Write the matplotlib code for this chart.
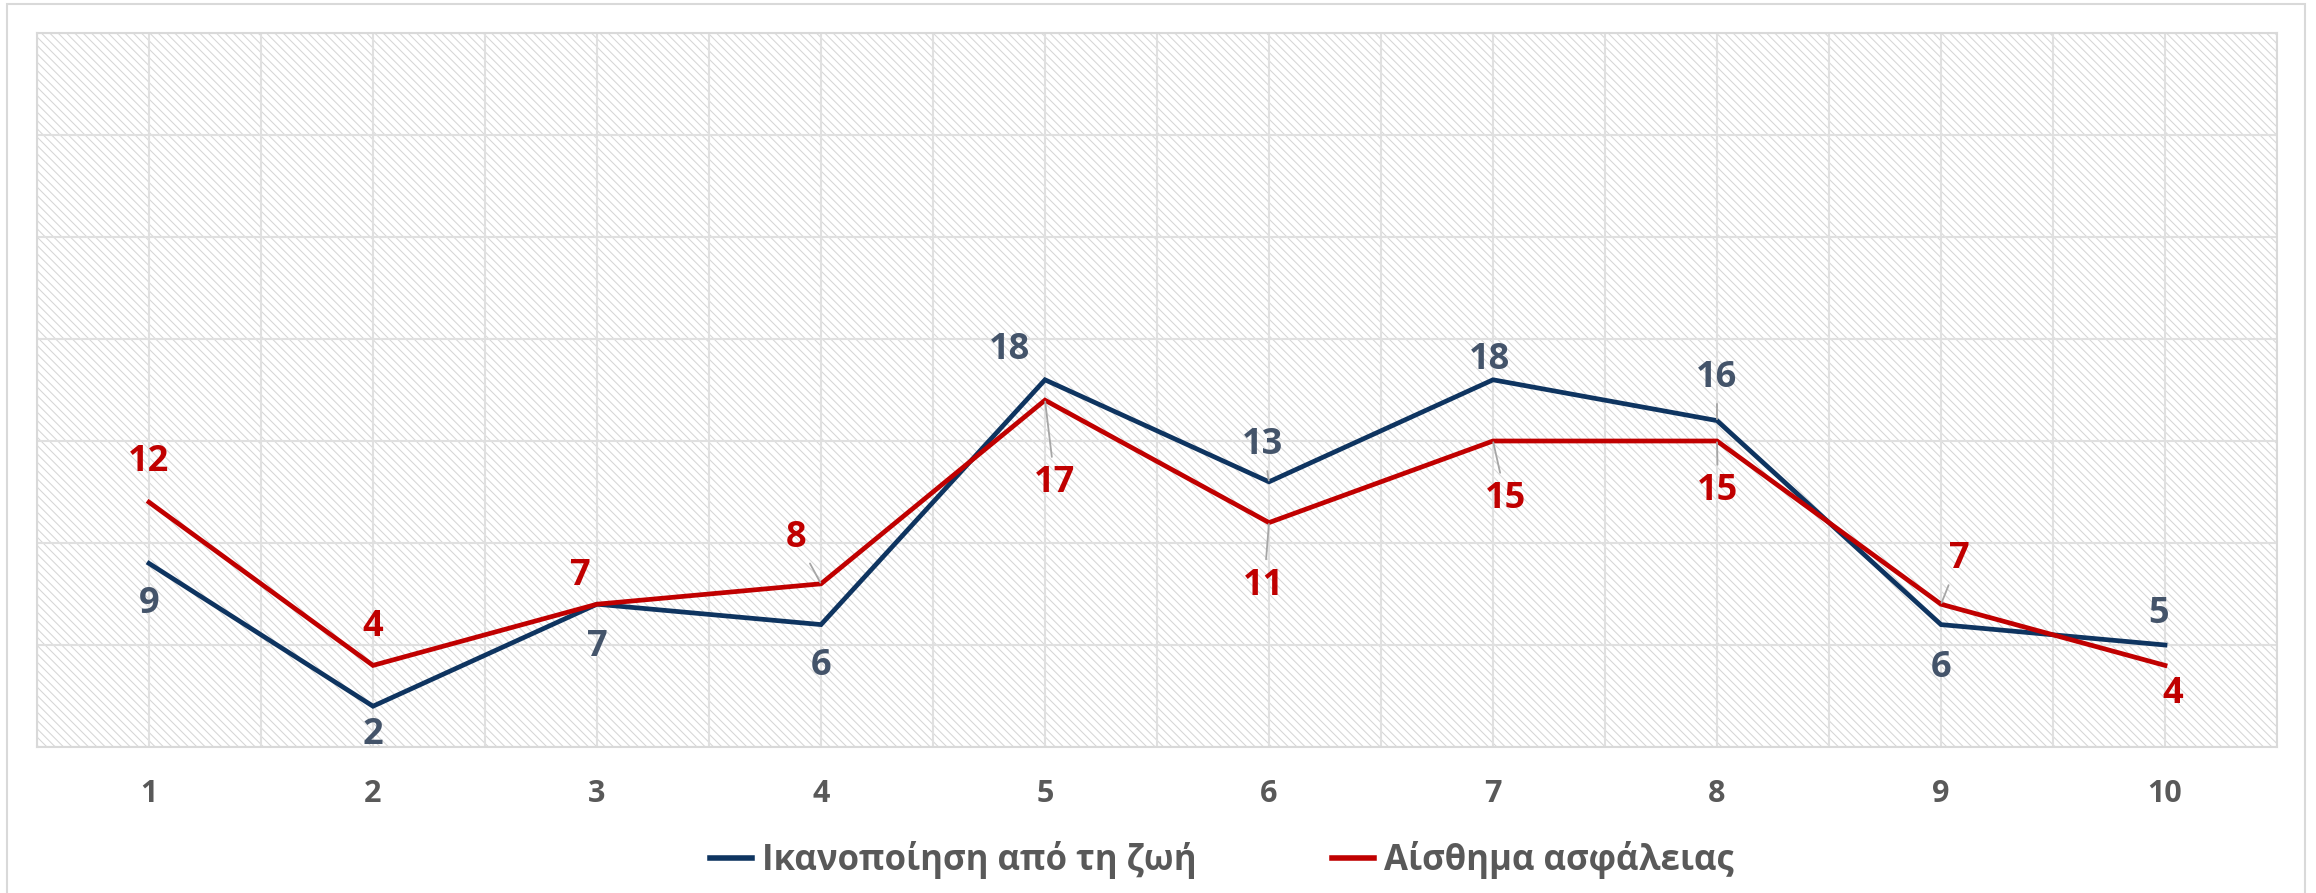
import matplotlib
matplotlib.use("Agg")
import matplotlib.pyplot as plt
from matplotlib.patches import Rectangle

# ---- data ----
categories = [1, 2, 3, 4, 5, 6, 7, 8, 9, 10]
life_satisfaction = [9, 2, 7, 6, 18, 13, 18, 16, 6, 5]
safety_feeling = [12, 4, 7, 8, 17, 11, 15, 15, 7, 4]
series_names = ["Ικανοποίηση από τη ζωή", "Αίσθημα ασφάλειας"]

# ---- style ----
BLUE = "#0E3460"
RED = "#C00000"
BLUE_TXT = "#44546A"
GRAY_TXT = "#595959"
GRID = "#E0E0E0"
LEADER = "#A6A6A6"

plt.rcParams["font.family"] = ["Open Sans", "DejaVu Sans"]
plt.rcParams["hatch.color"] = "#D6D6D6"
plt.rcParams["hatch.linewidth"] = 0.75

W, H, DPI = 2316, 893, 100
fig = plt.figure(figsize=(W / DPI, H / DPI), dpi=DPI)
fig.patch.set_facecolor("white")

# outer chart border
fig.add_artist(Rectangle((7 / W, -0.01), (2305 - 7) / W, 1 - 4 / H + 0.01,
                         transform=fig.transFigure, fill=False,
                         edgecolor="#D9D9D9", lw=1.5))

ax = fig.add_axes([37 / W, 1 - 747 / H, (2277 - 37) / W, (747 - 33) / H])
ax.set_facecolor("white")
ax.add_patch(Rectangle((0, 0), 1, 1, transform=ax.transAxes, facecolor="white",
                       hatch="\\\\\\\\", lw=0, zorder=0))

ax.set_xlim(0.5, 10.5)
ax.set_ylim(0, 35)
ax.set_xticks(categories)
ax.set_xticks([c - 0.5 for c in categories] + [10.5], minor=True)
ax.set_yticks(range(0, 36, 5))
ax.set_yticklabels([])
ax.set_axisbelow(True)
ax.grid(True, which="both", axis="x", color=GRID, lw=1.5)
ax.grid(True, which="major", axis="y", color=GRID, lw=1.5)
ax.tick_params(axis="both", which="both", length=0)
ax.tick_params(axis="x", pad=23, labelsize=22, labelcolor=GRAY_TXT)
for lab in ax.get_xticklabels():
    lab.set_fontweight("bold")
for sp in ax.spines.values():
    sp.set_color("#D9D9D9")
    sp.set_linewidth(1.5)

l1, = ax.plot(categories, life_satisfaction, color=BLUE, lw=3.4,
              solid_joinstyle="miter", zorder=3, label=series_names[0])
l2, = ax.plot(categories, safety_feeling, color=RED, lw=3.4,
              solid_joinstyle="miter", zorder=3, label=series_names[1])

# label offsets in pixels (dx, dy up) and whether a leader line is drawn
blue_off = [(0, -41), (0, -29), (0, -43), (0, -41), (-35, 30),
            (-6, 37), (-3, 20), (0, 43), (0, -43), (-6, 31)]
blue_lead = [False, False, False, False, False, True, False, True, False, False]
red_off = [(0, 40), (0, 38), (-17, 28), (-25, 46), (10, -83),
           (-5, -63), (13, -58), (1, -50), (18, 45), (8, -29)]
red_lead = [False, False, False, True, True, True, True, True, True, False]


def put_labels(vals, offs, leads, color):
    for x, v, (dx, dy), ld in zip(categories, vals, offs, leads):
        kw = {}
        if ld:
            kw["arrowprops"] = dict(arrowstyle="-", color=LEADER, lw=1.3,
                                    shrinkA=4, shrinkB=1)
        ax.annotate(str(v), xy=(x, v), xytext=(dx, dy),
                    textcoords="offset pixels", ha="center", va="center",
                    fontsize=26, fontweight="bold", color=color, zorder=5, **kw)


put_labels(life_satisfaction, blue_off, blue_lead, BLUE_TXT)
put_labels(safety_feeling, red_off, red_lead, RED)

leg = fig.legend(handles=[l1, l2], loc="center", ncol=2,
                 bbox_to_anchor=(1222 / W, 1 - 860 / H), frameon=False,
                 handlelength=1.2, handletextpad=0.3, columnspacing=3.9,
                 prop=dict(size=25, weight="bold"))
for t in leg.get_texts():
    t.set_color(GRAY_TXT)
for h in leg.legend_handles:
    h.set_linewidth(4)

fig.savefig("out.png", dpi=DPI, facecolor="white")
